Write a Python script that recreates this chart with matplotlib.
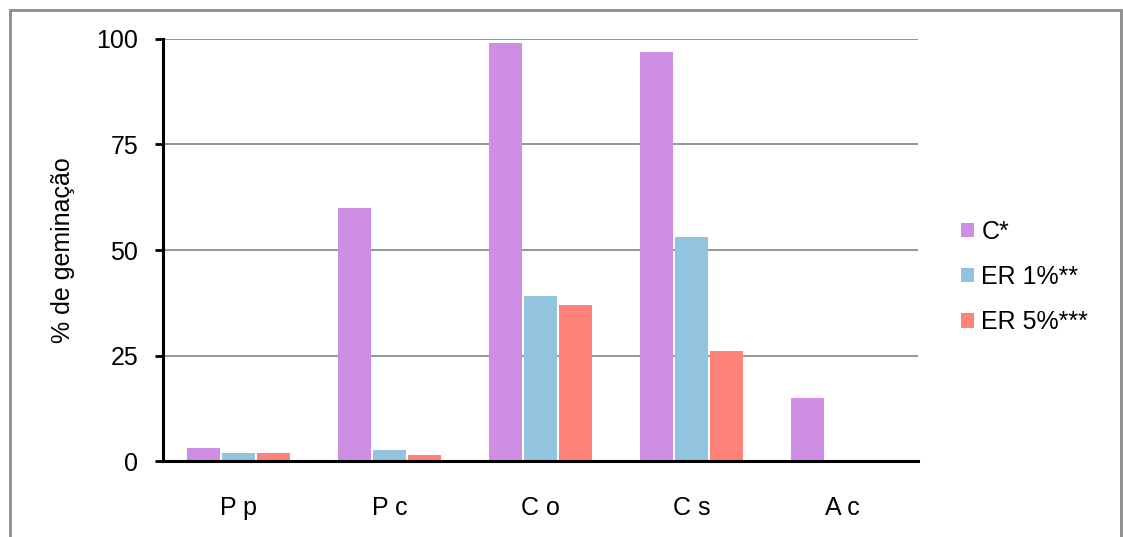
import numpy as np
import matplotlib.pyplot as plt
from matplotlib.patches import Patch, Rectangle

plt.rcParams['font.family'] = ['Liberation Sans', 'DejaVu Sans']

species = ['P p', 'P c', 'C o', 'C s', 'A c']
series_names = ['C*', 'ER 1%**', 'ER 5%***']
germ_control = [3, 60, 99, 97, 15]
germ_er1 = [2, 2.5, 39, 53, 0]
germ_er5 = [2, 1.5, 37, 26, 0]
colors = ['#CD8EE3', '#92C4E0', '#FF837B']

fig = plt.figure(figsize=(11.23, 5.37), dpi=100)
ax = fig.add_axes([0.1452, 0.1415, 0.8175 - 0.1452, 0.9274 - 0.1415])

x = np.arange(len(species))
width = 0.22
offsets = [-0.232, 0.0, 0.232]
for vals, off, col in zip([germ_control, germ_er1, germ_er5], offsets, colors):
    ax.bar(x + off, vals, width, color=col, linewidth=0, zorder=2)

ax.set_xlim(-0.5, len(species) - 0.5)
ax.set_ylim(0, 100)
ax.set_yticks([0, 25, 50, 75, 100])
ax.set_xticks(x)
ax.set_xticklabels(species)
ax.tick_params(axis='x', length=0, pad=25, labelsize=18)
ax.tick_params(axis='y', direction='out', length=6, width=2, labelsize=18, pad=12)
ax.yaxis.grid(True, color='#8c8c8c', linewidth=1.3, zorder=0)
ax.set_axisbelow(True)
for side in ['top', 'right']:
    ax.spines[side].set_visible(False)
for side in ['left', 'bottom']:
    ax.spines[side].set_linewidth(2.2)
    ax.spines[side].set_color('black')
ax.set_ylabel('% de geminação', fontsize=18, labelpad=15)

handles = [Patch(facecolor=c, edgecolor='none') for c in colors]
fig.legend(handles, series_names, loc='center left',
           bbox_to_anchor=(0.836, 0.484), frameon=False, fontsize=18,
           handlelength=0.5, handleheight=0.5, handletextpad=0.3,
           labelspacing=0.85)

# outer chart border
fig.patches.append(Rectangle((10 / 1123, -0.05), (1121 - 10) / 1123, 1 - 10 / 537 + 0.05,
                             transform=fig.transFigure, fill=False,
                             edgecolor='#8c8c8c', linewidth=2))

fig.savefig('out.png', dpi=100)
